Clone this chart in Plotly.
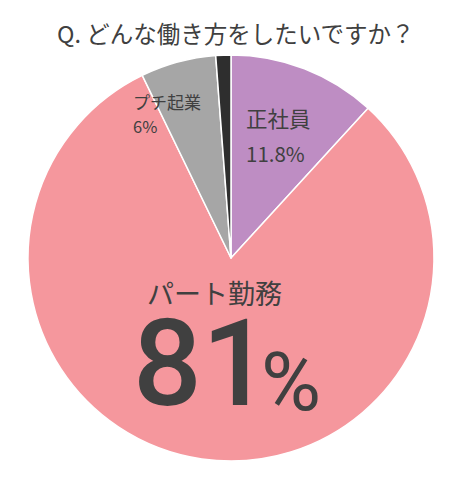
import plotly.graph_objects as go

W, H = 454, 483
labels = ["正社員", "パート勤務", "プチ起業", "その他"]
values = [11.8, 81.0, 6.0, 1.2]
colors = ["#BE8DC3", "#F5979D", "#A6A6A6", "#2E2E2E"]
title = "Q. どんな働き方をしたいですか？"

FONT = "Noto Sans CJK JP"
NUMFONT = "Roboto"
TXT = "#404040"
OFF = 8  # page body margin compensation

cx, cy, r = 231 - OFF, 258 - OFF, 203

fig = go.Figure(go.Pie(
    labels=labels, values=values, sort=False, direction="clockwise", rotation=0,
    marker=dict(colors=colors, line=dict(color="white", width=1.5)),
    textinfo="none", hoverinfo="label+percent", showlegend=False,
    domain=dict(x=[(cx - r) / W, (cx + r) / W], y=[(H - cy - r) / H, (H - cy + r) / H]),
))

def px(x, y):
    return (x - OFF) / W, (H - (y - OFF)) / H

anns = []
def add(text, x, y, size, xanchor="left", family=FONT, weight=None):
    ax, ay = px(x, y)
    f = dict(family=family, size=size, color=TXT)
    if weight:
        f["weight"] = weight
    anns.append(dict(text=text, x=ax, y=ay, xref="paper", yref="paper", showarrow=False,
                     xanchor=xanchor, yanchor="middle", font=f))

add(title, 236, 33, 23.5, "center")
add(labels[0], 244, 117, 21.5)
add(f"{values[0]}%", 244, 153, 20.5)
add(labels[2], 131, 102, 17)
add(f"{values[2]:.0f}%", 131, 126, 16.5)
add(labels[1], 145, 292, 27)
add(f"{values[1]:.0f}", 131, 364, 121, family=NUMFONT, weight=500)
add("%", 259, 382, 82, family=NUMFONT, weight=400)

fig.update_layout(width=W, height=H, margin=dict(l=0, r=0, t=0, b=0),
                  paper_bgcolor="white", plot_bgcolor="white", annotations=anns)
fig.write_html("out.html")
